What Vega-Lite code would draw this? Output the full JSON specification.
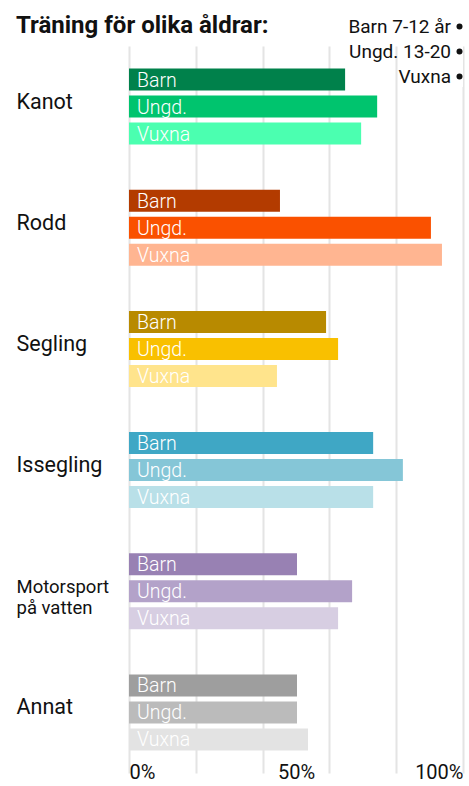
{
  "$schema": "https://vega.github.io/schema/vega-lite/v6.json",
  "width": 334,
  "height": 727,
  "autosize": {"type": "none"},
  "padding": {"left": 129, "top": 46, "right": 6, "bottom": 13},
  "background": "white",
  "title": {
    "text": "Träning för olika åldrar:",
    "anchor": "start",
    "frame": "bounds",
    "font": "Roboto",
    "fontSize": 24,
    "fontWeight": "bold",
    "color": "#111111",
    "offset": -21
  },
  "config": {"view": {"stroke": null}},
  "data": {
    "values": [
      {"sport": "Kanot", "age": "Barn", "agegroup": "Barn 7-12 år", "value": 64.7},
      {"sport": "Kanot", "age": "Ungd.", "agegroup": "Ungd. 13-20", "value": 74.3},
      {"sport": "Kanot", "age": "Vuxna", "agegroup": "Vuxna", "value": 69.5},
      {"sport": "Rodd", "age": "Barn", "agegroup": "Barn 7-12 år", "value": 45.2},
      {"sport": "Rodd", "age": "Ungd.", "agegroup": "Ungd. 13-20", "value": 90.4},
      {"sport": "Rodd", "age": "Vuxna", "agegroup": "Vuxna", "value": 93.7},
      {"sport": "Segling", "age": "Barn", "agegroup": "Barn 7-12 år", "value": 59.0},
      {"sport": "Segling", "age": "Ungd.", "agegroup": "Ungd. 13-20", "value": 62.6},
      {"sport": "Segling", "age": "Vuxna", "agegroup": "Vuxna", "value": 44.3},
      {"sport": "Issegling", "age": "Barn", "agegroup": "Barn 7-12 år", "value": 73.1},
      {"sport": "Issegling", "age": "Ungd.", "agegroup": "Ungd. 13-20", "value": 82.0},
      {"sport": "Issegling", "age": "Vuxna", "agegroup": "Vuxna", "value": 73.1},
      {"sport": "Motorsport på vatten", "age": "Barn", "agegroup": "Barn 7-12 år", "value": 50.3},
      {"sport": "Motorsport på vatten", "age": "Ungd.", "agegroup": "Ungd. 13-20", "value": 66.8},
      {"sport": "Motorsport på vatten", "age": "Vuxna", "agegroup": "Vuxna", "value": 62.6},
      {"sport": "Annat", "age": "Barn", "agegroup": "Barn 7-12 år", "value": 50.3},
      {"sport": "Annat", "age": "Ungd.", "agegroup": "Ungd. 13-20", "value": 50.3},
      {"sport": "Annat", "age": "Vuxna", "agegroup": "Vuxna", "value": 53.6}
    ]
  },
  "transform": [{"calculate": "datum.sport + '|' + datum.age", "as": "key"}],
  "encoding": {
    "y": {
      "field": "sport",
      "type": "nominal",
      "sort": ["Kanot", "Rodd", "Segling", "Issegling", "Motorsport på vatten", "Annat"],
      "scale": {"paddingInner": 0, "paddingOuter": 0},
      "axis": {
        "title": null,
        "ticks": false,
        "domain": false,
        "grid": false,
        "labelAlign": "left",
        "labelPadding": 113,
        "labelBaseline": "middle",
        "labelOffset": -4,
        "labelFont": "Roboto",
        "labelFontSize": {"condition": {"test": "datum.value == 'Motorsport på vatten'", "value": 18.5}, "value": 21.5},
        "labelColor": "#111111",
        "labelLimit": 200,
        "labelLineHeight": 21,
        "labelExpr": "datum.value == 'Motorsport på vatten' ? ['Motorsport', 'på vatten'] : datum.label"
      }
    },
    "yOffset": {
      "field": "age",
      "type": "nominal",
      "sort": ["Barn", "Ungd.", "Vuxna"],
      "scale": {"paddingInner": 0.185, "paddingOuter": 0.837}
    },
    "x": {
      "field": "value",
      "type": "quantitative",
      "scale": {"domain": [0, 100], "nice": false},
      "axis": {
        "title": null,
        "orient": "bottom",
        "values": [0, 20, 40, 50, 60, 80, 100],
        "grid": true,
        "gridColor": "#e4e4e4",
        "gridWidth": 2,
        "gridOpacity": {"condition": {"test": "datum.value == 50", "value": 0}, "value": 1},
        "ticks": false,
        "domain": false,
        "labelExpr": "datum.value == 0 || datum.value == 50 || datum.value == 100 ? datum.value + '%' : ''",
        "labelFlush": true,
        "labelOverlap": false,
        "labelBaseline": "alphabetic",
        "labelPadding": 5,
        "labelFont": "Roboto",
        "labelFontSize": 20,
        "labelColor": "#111111"
      }
    }
  },
  "layer": [
    {
      "mark": {"type": "bar"},
      "encoding": {
        "color": {
          "field": "key",
          "type": "nominal",
          "legend": null,
          "scale": {
            "domain": [
              "Kanot|Barn", "Kanot|Ungd.", "Kanot|Vuxna",
              "Rodd|Barn", "Rodd|Ungd.", "Rodd|Vuxna",
              "Segling|Barn", "Segling|Ungd.", "Segling|Vuxna",
              "Issegling|Barn", "Issegling|Ungd.", "Issegling|Vuxna",
              "Motorsport på vatten|Barn", "Motorsport på vatten|Ungd.", "Motorsport på vatten|Vuxna",
              "Annat|Barn", "Annat|Ungd.", "Annat|Vuxna"
            ],
            "range": [
              "#00814b", "#00c46e", "#4bffb0",
              "#b33b00", "#fa5100", "#ffb591",
              "#b88a00", "#f9c000", "#ffe48c",
              "#3fa7c5", "#85c6d7", "#b9e0e8",
              "#9881b3", "#b3a2c9", "#d7cee2",
              "#9e9e9e", "#bbbbbb", "#e3e3e3"
            ]
          }
        },
        "opacity": {
          "field": "agegroup",
          "type": "ordinal",
          "sort": ["Barn 7-12 år", "Ungd. 13-20", "Vuxna"],
          "scale": {"range": [1, 1, 1]},
          "legend": {
            "title": null,
            "orient": "none",
            "legendX": 321,
            "legendY": -29,
            "labelAlign": "right",
            "labelOffset": -18,
            "symbolType": "circle",
            "symbolSize": 36,
            "symbolFillColor": "#111111",
            "symbolStrokeColor": "#111111",
            "symbolStrokeWidth": 0,
            "labelFont": "Roboto",
            "labelFontSize": 19,
            "labelColor": "#111111",
            "labelLimit": 200,
            "rowPadding": 5,
            "padding": 0,
            "fillColor": "white"
          }
        }
      }
    },
    {
      "mark": {"type": "text", "align": "left", "baseline": "middle", "dx": 8, "dy": 1, "color": "white", "font": "Roboto", "fontWeight": 300, "fontSize": 19.5},
      "encoding": {
        "x": {"datum": 0, "type": "quantitative"},
        "text": {"field": "age"}
      }
    }
  ]
}
